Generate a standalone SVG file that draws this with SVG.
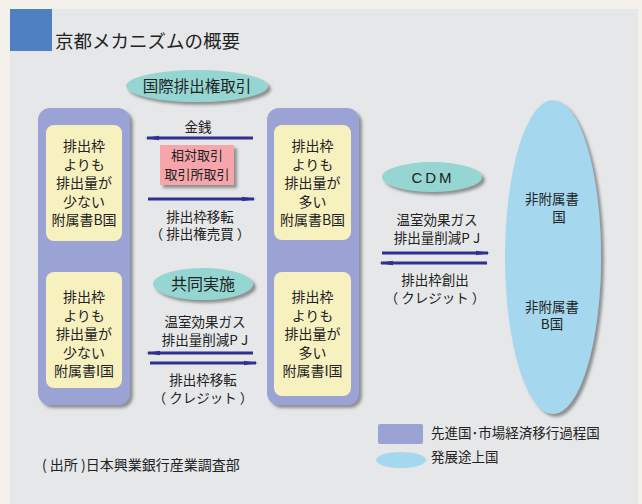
<svg xmlns="http://www.w3.org/2000/svg" width="642" height="504" viewBox="0 0 642 504">
<defs>
<style>
text{font-family:"Noto Sans CJK JP","Noto Sans",sans-serif;fill:#222;}
.c{text-anchor:middle;font-size:14px;}
.s{text-anchor:middle;font-size:13.5px;}
.col{fill:#9aa3d4;}
.yel{fill:#f7f1c0;}
.arr{stroke:#2e318f;stroke-width:3;fill:none;marker-end:url(#ah);}
</style>
<filter id="sh" x="-20%" y="-20%" width="140%" height="140%">
<feDropShadow dx="3" dy="3" stdDeviation="1.5" flood-color="#555" flood-opacity="0.6"/>
</filter>
<marker id="ah" viewBox="0 0 14 6" refX="12" refY="3" markerWidth="14" markerHeight="6" markerUnits="userSpaceOnUse" orient="auto">
<path d="M0,0.8 L14,3 L0,5.2 Z" fill="#2e318f"/>
</marker>
</defs>
<rect width="642" height="504" fill="#f3f1ea"/>
<rect x="10" y="9" width="628" height="495" fill="#e6e7e9"/>
<rect x="10" y="9" width="42" height="42" fill="#4f80c1"/>
<text x="55" y="48" style="font-size:18.5px">京都メカニズムの概要</text>

<g id="ie-ellipse">
<ellipse cx="197" cy="86" rx="71" ry="16" fill="#95d6d2" filter="url(#sh)"/>
<text x="197" y="92" class="c" style="font-size:15.5px">国際排出権取引</text>
</g>

<g id="left-col">
<rect x="38" y="108" width="92" height="297" rx="12" class="col" filter="url(#sh)"/>
</g>
<g id="left-top">
<rect x="46" y="125" width="76" height="116" rx="8" class="yel"/>
<text class="c"><tspan x="84" y="151">排出枠</tspan><tspan x="84" y="169.5">よりも</tspan><tspan x="84" y="188">排出量が</tspan><tspan x="84" y="206.5">少ない</tspan><tspan x="84" y="225">附属書B国</tspan></text>
</g>
<g id="left-bottom">
<rect x="46" y="272" width="76" height="116" rx="8" class="yel"/>
<text class="c"><tspan x="84" y="302">排出枠</tspan><tspan x="84" y="320.5">よりも</tspan><tspan x="84" y="339">排出量が</tspan><tspan x="84" y="357.5">少ない</tspan><tspan x="84" y="376">附属書I国</tspan></text>
</g>

<g id="right-col">
<rect x="267" y="108" width="92" height="297" rx="12" class="col" filter="url(#sh)"/>
</g>
<g id="right-top">
<rect x="274" y="125" width="77" height="115" rx="8" class="yel"/>
<text class="c"><tspan x="312.5" y="151">排出枠</tspan><tspan x="312.5" y="169.5">よりも</tspan><tspan x="312.5" y="188">排出量が</tspan><tspan x="312.5" y="206.5">多い</tspan><tspan x="312.5" y="225">附属書B国</tspan></text>
</g>
<g id="right-bottom">
<rect x="274" y="272" width="77" height="124" rx="8" class="yel"/>
<text class="c"><tspan x="312.5" y="302">排出枠</tspan><tspan x="312.5" y="320.5">よりも</tspan><tspan x="312.5" y="339">排出量が</tspan><tspan x="312.5" y="357.5">多い</tspan><tspan x="312.5" y="376">附属書I国</tspan></text>
</g>

<g id="exchange-box">
<rect x="160" y="145" width="74" height="40" fill="#f6a6ab" filter="url(#sh)"/>
<text class="c" style="font-size:13px"><tspan x="197" y="160">相対取引</tspan><tspan x="197" y="179">取引所取引</tspan></text>
</g>

<g id="ji-ellipse">
<ellipse cx="203" cy="284" rx="50" ry="16" fill="#95d6d2" filter="url(#sh)"/>
<text x="203" y="290" class="c" style="font-size:16px">共同実施</text>
</g>

<g id="cdm-ellipse">
<ellipse cx="432" cy="177" rx="50" ry="15" fill="#95d6d2" filter="url(#sh)"/>
<text x="433" y="183" class="c" style="font-size:15px;letter-spacing:3px;font-family:'Liberation Sans',sans-serif">CDM</text>
</g>

<g id="non-annex">
<ellipse cx="553" cy="257" rx="48" ry="157" fill="#a5d8ef" filter="url(#sh)"/>
<text class="s"><tspan x="552" y="204">非附属書</tspan><tspan x="559" y="222">国</tspan><tspan x="552" y="312">非附属書</tspan><tspan x="552" y="329">B国</tspan></text>
</g>

<g id="connectors">
<line x1="253" y1="138" x2="147" y2="138" class="arr"/>
<line x1="148" y1="199" x2="254" y2="199" class="arr"/>
<line x1="253" y1="353" x2="148" y2="353" class="arr"/>
<line x1="150" y1="363" x2="256" y2="363" class="arr"/>
<line x1="382" y1="253" x2="488" y2="253" class="arr"/>
<line x1="487" y1="263" x2="381" y2="263" class="arr"/>
</g>

<g id="labels">
<text x="198" y="132" class="s">金銭</text>
<text class="s"><tspan x="200" y="222">排出枠移転</tspan><tspan x="200" y="238.5">（ 排出権売買 ）</tspan></text>
<text class="s"><tspan x="205" y="327">温室効果ガス</tspan><tspan x="205" y="345">排出量削減P J</tspan></text>
<text class="s"><tspan x="203" y="385">排出枠移転</tspan><tspan x="203" y="403">（ クレジット ）</tspan></text>
<text class="s"><tspan x="437" y="225">温室効果ガス</tspan><tspan x="437" y="242.5">排出量削減P J</tspan></text>
<text class="s"><tspan x="435" y="285">排出枠創出</tspan><tspan x="435" y="303">（ クレジット ）</tspan></text>
</g>

<g id="legend">
<rect x="378" y="424" width="45" height="20" rx="2" class="col"/>
<text x="431" y="438" style="font-size:13.5px">先進国･市場経済移行過程国</text>
<ellipse cx="401" cy="460" rx="25" ry="8" fill="#a5d8ef"/>
<text x="431" y="462" style="font-size:13.5px">発展途上国</text>
</g>
<text x="42" y="470" style="font-size:14px">( 出所 )日本興業銀行産業調査部</text>
</svg>
